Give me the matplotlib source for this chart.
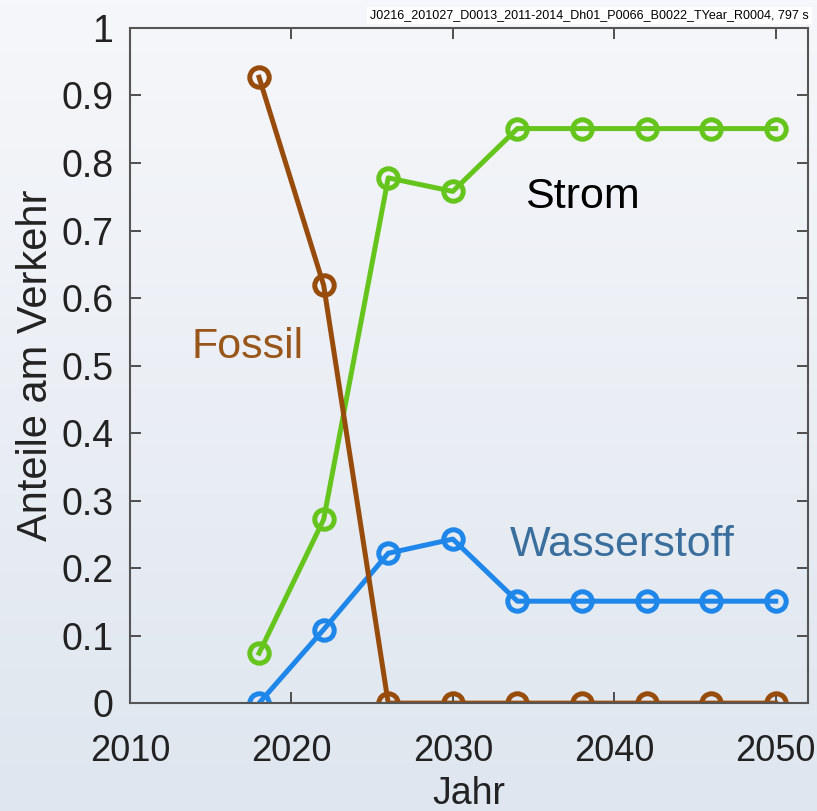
import numpy as np
import matplotlib
matplotlib.use("Agg")
import matplotlib.pyplot as plt

plt.rcParams['font.family'] = ['Liberation Sans', 'DejaVu Sans']

# Daten
jahre = [2018, 2022, 2026, 2030, 2034, 2038, 2042, 2046, 2050]
strom = [0.074, 0.272, 0.778, 0.758, 0.851, 0.851, 0.851, 0.851, 0.851]
wasserstoff = [0.0, 0.109, 0.222, 0.243, 0.151, 0.151, 0.151, 0.151, 0.151]
fossil = [0.927, 0.619, 0.0, 0.0, 0.0, 0.0, 0.0, 0.0, 0.0]

x_ticks = [2010, 2020, 2030, 2040, 2050]
y_ticks = [0, 0.1, 0.2, 0.3, 0.4, 0.5, 0.6, 0.7, 0.8, 0.9, 1]
y_labels = ['0', '0.1', '0.2', '0.3', '0.4', '0.5', '0.6', '0.7', '0.8', '0.9', '1']

fig = plt.figure(figsize=(8.17, 8.11), dpi=100)

# hintergrund mit leichtem verlauf
bg = fig.add_axes([0, 0, 1, 1], zorder=-10)
grad = np.linspace(0, 1, 256).reshape(-1, 1)
cmap = matplotlib.colors.LinearSegmentedColormap.from_list('bg', ['#f6f7fa', '#dfe6ef'])
bg.imshow(grad, aspect='auto', cmap=cmap, extent=[0, 1, 0, 1])
bg.axis('off')

ax = fig.add_axes([0.159, 0.133, 0.83, 0.8325])
ax.patch.set_alpha(0)

gruen = '#66c51c'
blau = '#1f86ea'
braun = '#984c0c'
stil = dict(lw=3.6, marker='o', markersize=14, markerfacecolor='none', markeredgewidth=3.6)

ax.plot(jahre, strom, color=gruen, **stil)
ax.plot(jahre, wasserstoff, color=blau, **stil)
ax.plot(jahre, fossil, color=braun, **stil)

ax.text(2034.5, 0.75, 'Strom', fontsize=31, color='black', va='center')
ax.text(2033.5, 0.234, 'Wasserstoff', fontsize=31, color='#3a6e9c', va='center')
ax.text(2013.8, 0.527, 'Fossil', fontsize=31, color='#99561a', va='center')

ax.set_xlim(2010, 2052)
ax.set_ylim(0, 1)
ax.set_xticks(x_ticks)
ax.set_yticks(y_ticks)
ax.set_yticklabels(y_labels)
ax.tick_params(direction='in', length=8, width=1.2, labelsize=27, colors='#333333',
               top=True, right=True, pad=12)
ax.tick_params(axis='x', labelsize=26, pad=22)
for lab in ax.get_xticklabels() + ax.get_yticklabels():
    lab.set_color('#222222')
for s in ax.spines.values():
    s.set_color('#555555')
    s.set_linewidth(1.5)

ax.set_xlabel('Jahr', fontsize=27, color='#222222', labelpad=5)
ax.set_ylabel('Anteile am Verkehr', fontsize=30, color='#222222', labelpad=4)

fig.text(0.99, 0.981, 'J0216_201027_D0013_2011-2014_Dh01_P0066_B0022_TYear_R0004, 797 s',
         fontsize=9, ha='right', va='center',
         family=['Liberation Sans Narrow', 'Liberation Sans', 'DejaVu Sans'],
         bbox=dict(facecolor='white', edgecolor='none', pad=2))

plt.savefig('out.png', dpi=100)
